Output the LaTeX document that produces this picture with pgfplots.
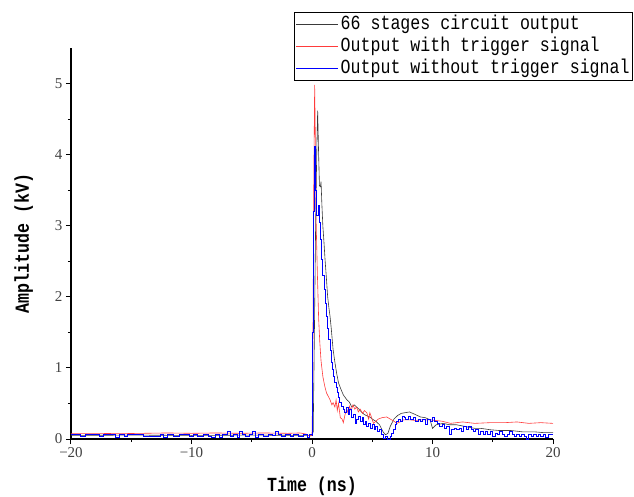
\documentclass[border=0pt]{standalone}
\usepackage{fontspec}
\setmainfont{Liberation Serif}
\newfontfamily\labelfont{Liberation Mono}[FakeStretch=0.83]
\usepackage{pgfplots}
\pgfplotsset{compat=1.18}
\definecolor{cblack}{HTML}{3A3A3A}
\definecolor{cred}{HTML}{FF3B3B}
\definecolor{cblue}{HTML}{0000FF}
\begin{document}
\begin{tikzpicture}
\path[use as bounding box] (-71pt,-57pt) rectangle (563pt,439pt);
\begin{axis}[
  at={(0,0)}, anchor=south west,
  scale only axis, width=482pt, height=391pt,
  xmin=-20, xmax=20, ymin=0, ymax=5.5,
  axis x line*=bottom, axis y line*=left,
  axis line style={line width=1.5pt},
  tick align=outside,
  xtick={-20,-10,0,10,20}, xticklabels={−20,−10,0,10,20},
  minor xtick={-15,-5,5,15},
  ytick={0,1,2,3,4,5}, yticklabels={0,1,2,3,4,5},
  minor ytick={0.5,1.5,2.5,3.5,4.5},
  major tick length=5pt, minor tick length=3pt,
  every tick/.style={black, line width=1pt},
  /pgf/number format/assume math mode=true,
  tick label style={font=\fontsize{15}{18}\selectfont, text=black!75},
  xlabel={Time (ns)}, ylabel={Amplitude (kV)},
  label style={font=\labelfont\bfseries\fontsize{20}{22}\selectfont},
  xlabel style={yshift=-12pt},
  ylabel style={yshift=15pt},
  legend cell align=left,
  legend image code/.code={\draw[#1] (0pt,0pt) -- (42pt,0pt);},
  legend style={at={(axis description cs:1.166,1.092)}, anchor=north east,
    draw=black, line width=0.8pt, fill=white,
    font=\labelfont\fontsize{20}{22}\selectfont,
    inner sep=1pt, row sep=0pt,
    nodes={text height=14pt, text depth=4pt, inner sep=2pt, line width=0.4pt}},
]
\addplot[cblack, line width=0.6pt] coordinates {
(-20,0.05) (-15,0.055) (-10,0.05) (-5,0.055) (0,0.05) (0.1,0.1) (0.2,1.5) (0.3,3.0) (0.4,4.1) (0.47,4.62) (0.55,4.0) (0.62,3.56) (0.7,3.55) (0.75,3.62) (0.82,3.3) (0.9,3.0) (1.0,2.75) (1.08,2.53) (1.2,2.25) (1.3,2.0) (1.4,1.85) (1.5,1.72) (1.6,1.55) (1.75,1.26) (1.9,1.08) (2.05,0.92) (2.2,0.79) (2.4,0.7) (2.6,0.62) (2.9,0.55) (3.1,0.52) (3.3,0.45) (3.5,0.48) (3.7,0.45) (3.9,0.42) (4.1,0.38) (4.3,0.35) (4.5,0.33) (4.8,0.31) (5.0,0.28) (5.3,0.25) (5.6,0.2) (5.9,0.1) (6.1,0.06) (6.3,0.08) (6.5,0.18) (6.8,0.28) (7.1,0.33) (7.4,0.36) (7.7,0.37) (8.1,0.38) (8.5,0.35) (9.0,0.31) (9.4,0.3) (9.8,0.27) (10.0,0.15) (10.3,0.2) (10.9,0.22) (11.4,0.2) (12.0,0.2) (12.9,0.17) (13.5,0.15) (14.0,0.15) (14.8,0.13) (15.5,0.12) (16.5,0.12) (17.5,0.1) (18.5,0.1) (19.2,0.09) (20,0.09)
};
\addlegendentry{66 stages circuit output}
\addplot[cred, line width=0.6pt] coordinates {
(-20,0.08) (-18,0.08) (-16,0.075) (-14,0.08) (-12,0.085) (-10,0.08) (-8,0.085) (-6,0.08) (-4,0.085) (-2,0.08) (-1,0.085) (-0.5,0.07) (-0.2,0.04) (0.0,0.05) (0.05,0.6) (0.1,2.0) (0.15,3.6) (0.22,4.98) (0.28,4.2) (0.35,3.0) (0.45,2.3) (0.55,1.7) (0.65,1.35) (0.75,1.1) (0.9,0.88) (1.05,0.75) (1.2,0.65) (1.35,0.6) (1.5,0.55) (1.65,0.48) (1.75,0.51) (1.9,0.45) (2.0,0.55) (2.1,0.4) (2.2,0.5) (2.35,0.3) (2.5,0.28) (2.6,0.23) (2.75,0.35) (2.9,0.42) (3.0,0.36) (3.1,0.46) (3.25,0.4) (3.4,0.48) (3.55,0.42) (3.7,0.45) (3.85,0.38) (4.0,0.42) (4.2,0.36) (4.35,0.4) (4.55,0.37) (4.7,0.28) (4.8,0.37) (4.95,0.3) (5.1,0.22) (5.3,0.25) (5.5,0.28) (5.8,0.3) (6.2,0.31) (6.5,0.28) (6.8,0.25) (7.05,0.22) (7.3,0.24) (7.6,0.27) (8.1,0.27) (8.6,0.26) (9.0,0.27) (9.8,0.27) (10.3,0.26) (10.8,0.25) (11.5,0.22) (12.5,0.24) (13.5,0.22) (14.8,0.23) (16,0.23) (17,0.24) (18,0.22) (19,0.23) (20,0.22)
};
\addlegendentry{Output with trigger signal}
\addplot[cblue, line width=1pt, const plot] coordinates {
(-20,0.07) (-19.2,0.03) (-18.8,0.07) (-17.6,0.03) (-17.3,0.07) (-16.3,0.02) (-16.0,0.07) (-15.6,0.03) (-15.3,0.07) (-14.0,0.03) (-12.6,0.07) (-12.3,0.02) (-12.0,0.07) (-11.5,0.03) (-11.0,0.07) (-10.2,0.03) (-9.8,0.07) (-9.5,0.03) (-9.0,0.07) (-8.6,0.03) (-8.3,0.02) (-8.0,0.07) (-7.7,0.02) (-7.4,0.07) (-7.0,0.10) (-6.8,0.03) (-6.5,0.07) (-6.2,0.02) (-6.0,0.10) (-5.8,0.07) (-5.5,0.03) (-5.2,0.07) (-4.9,0.10) (-4.7,0.02) (-4.4,0.07) (-4.0,0.03) (-3.6,0.07) (-3.3,0.05) (-3.0,0.10) (-2.8,0.07) (-2.5,0.03) (-2.2,0.07) (-1.8,0.03) (-1.5,0.07) (-1.1,0.03) (-0.7,0.07) (-0.4,0.02) (-0.2,0.07) (0.0,0.05) (0.05,1.5) (0.1,3.2) (0.2,4.12) (0.3,3.5) (0.4,3.14) (0.5,3.28) (0.6,3.05) (0.7,2.8) (0.8,2.53) (0.9,2.3) (1.0,2.1) (1.1,1.9) (1.2,1.72) (1.3,1.55) (1.4,1.4) (1.5,1.25) (1.6,1.08) (1.7,0.98) (1.8,0.88) (1.9,0.8) (2.0,0.72) (2.1,0.66) (2.2,0.58) (2.3,0.51) (2.45,0.46) (2.6,0.41) (2.7,0.37) (2.85,0.44) (3.0,0.34) (3.15,0.41) (3.3,0.3) (3.45,0.34) (3.57,0.22) (3.7,0.27) (3.85,0.31) (4.0,0.24) (4.15,0.3) (4.3,0.2) (4.45,0.24) (4.55,0.17) (4.7,0.22) (4.85,0.15) (5.0,0.2) (5.15,0.13) (5.3,0.17) (5.45,0.1) (5.6,0.13) (5.75,0.06) (5.9,0.01) (6.1,0.03) (6.3,0.0) (6.5,0.03) (6.6,0.08) (6.75,0.13) (6.9,0.2) (7.05,0.24) (7.2,0.27) (7.35,0.24) (7.5,0.31) (7.65,0.3) (7.8,0.27) (8.0,0.31) (8.2,0.27) (8.4,0.3) (8.6,0.24) (8.8,0.27) (9.0,0.24) (9.2,0.27) (9.4,0.2) (9.6,0.27) (9.8,0.24) (10.0,0.3) (10.2,0.24) (10.4,0.22) (10.6,0.17) (10.8,0.2) (11.0,0.15) (11.2,0.17) (11.4,0.06) (11.6,0.13) (11.8,0.15) (12.0,0.13) (12.2,0.15) (12.4,0.1) (12.6,0.17) (12.8,0.13) (13.0,0.17) (13.2,0.13) (13.4,0.1) (13.6,0.13) (13.8,0.07) (14.0,0.1) (14.2,0.06) (14.4,0.1) (14.6,0.07) (14.8,0.1) (15.0,0.03) (15.2,0.08) (15.4,0.06) (15.6,0.1) (15.8,0.07) (16.0,0.03) (16.2,0.07) (16.4,0.1) (16.6,0.06) (16.8,0.03) (17.0,0.07) (17.2,0.03) (17.4,0.07) (17.6,0.03) (17.8,0.0) (18.0,0.07) (18.2,0.03) (18.4,0.06) (18.6,0.03) (18.8,0.07) (19.0,0.03) (19.2,0.07) (19.4,0.02) (19.6,0.06) (19.8,0.07) (20.0,0.07)
};
\addlegendentry{Output without trigger signal}
\end{axis}
\end{tikzpicture}
\end{document}
